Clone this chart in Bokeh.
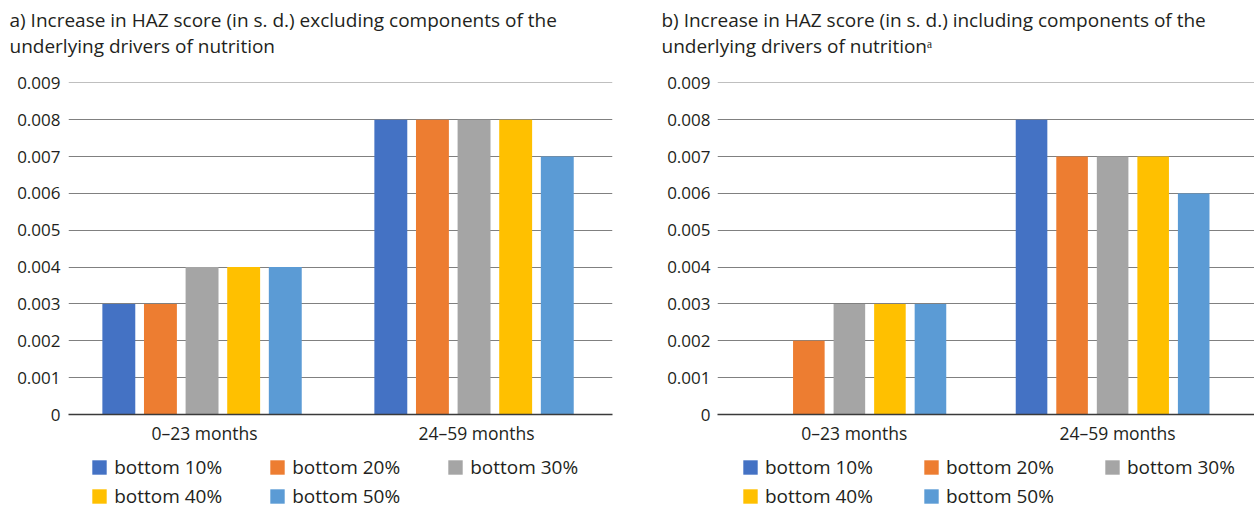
from bokeh.plotting import figure
from bokeh.models import (FactorRange, Range1d, FixedTicker, Legend, LegendItem, Title,
                          ColumnDataSource, NumeralTickFormatter)
from bokeh.transform import dodge
from bokeh.layouts import row, column
from bokeh.embed import file_html
from bokeh.resources import INLINE

# ---------------- data ----------------
age_groups = ["0–23 months", "24–59 months"]
series_names = ["bottom 10%", "bottom 20%", "bottom 30%", "bottom 40%", "bottom 50%"]

# a) excluding components of the underlying drivers of nutrition
a_bottom10 = [0.003, 0.008]
a_bottom20 = [0.003, 0.008]
a_bottom30 = [0.004, 0.008]
a_bottom40 = [0.004, 0.008]
a_bottom50 = [0.004, 0.007]

# b) including components of the underlying drivers of nutrition
b_bottom10 = [0.0, 0.008]
b_bottom20 = [0.002, 0.007]
b_bottom30 = [0.003, 0.007]
b_bottom40 = [0.003, 0.007]
b_bottom50 = [0.003, 0.006]

y_ticks = [0, 0.001, 0.002, 0.003, 0.004, 0.005, 0.006, 0.007, 0.008, 0.009]

title_a = "a) Increase in HAZ score (in s. d.) excluding components of the\nunderlying drivers of nutrition"
title_b = "b) Increase in HAZ score (in s. d.) including components of the\nunderlying drivers of nutrition\u1d43"

# ---------------- style ----------------
colors = ["#4472C4", "#ED7D31", "#A5A5A5", "#FFC000", "#5B9BD5"]
FONT = "Open Sans"
TXT = "#231F20"


def add_bars(p, src, bar_w, step, shift):
    offsets = [shift - 2 * step, shift - step, shift, shift + step, shift + 2 * step]
    rends = []
    for i in range(5):
        r = p.vbar(x=dodge("cat", offsets[i], range=p.x_range), top="s%d" % i, width=bar_w,
                   source=src, fill_color=colors[i], line_color=None)
        rends.append(r)
    return rends


def make_panel(title, src, min_left, min_right, fw, pad, bar_w, step, shift, title_off, ystand):
    p = figure(x_range=FactorRange(*age_groups, range_padding=pad, range_padding_units="absolute"),
               y_range=Range1d(0, 0.00901),
               frame_width=fw, frame_height=332,
               min_border_left=min_left, min_border_right=min_right,
               min_border_top=82, min_border_bottom=36,
               output_backend="svg", toolbar_location=None)
    p.outline_line_color = None
    p.background_fill_color = "white"
    p.border_fill_color = "white"

    add_bars(p, src, bar_w, step, shift)

    # spacer between title and plot area, then the two-line title
    p.add_layout(Title(text=" ", text_font_size="1px", standoff=21), "above")
    p.add_layout(Title(text=title, text_font=FONT, text_font_size="19px", text_font_style="normal",
                       text_color=TXT, text_line_height=1.0, align="left", offset=title_off,
                       standoff=0), "above")

    # grid
    p.xgrid.grid_line_color = None
    p.ygrid.ticker = FixedTicker(ticks=y_ticks)
    p.ygrid.grid_line_color = "#808080"
    p.ygrid.grid_line_width = 1.2

    # y axis
    p.yaxis.ticker = FixedTicker(ticks=y_ticks)
    p.yaxis.formatter = NumeralTickFormatter(format="0.[000]")
    p.yaxis.axis_line_color = None
    p.yaxis.major_tick_line_color = None
    p.yaxis.minor_tick_line_color = None
    p.yaxis.major_tick_out = 0
    p.yaxis.major_tick_in = 0
    p.yaxis.minor_tick_out = 0
    p.yaxis.major_label_text_font = FONT
    p.yaxis.major_label_text_font_size = "17px"
    p.yaxis.major_label_text_color = TXT
    p.yaxis.major_label_standoff = ystand

    # x axis
    p.xaxis.axis_line_color = "#3a3a3a"
    p.xaxis.axis_line_width = 1.3
    p.xaxis.major_tick_line_color = None
    p.xaxis.minor_tick_line_color = None
    p.xaxis.major_tick_out = 0
    p.xaxis.major_tick_in = 0
    p.xaxis.minor_tick_out = 0
    p.xaxis.major_label_text_font = FONT
    p.xaxis.major_label_text_font_size = "17.5px"
    p.xaxis.major_label_text_color = TXT
    p.xaxis.major_label_standoff = 6
    return p


def make_legend(src, min_left, min_right, fw, x_off, ys, label_w):
    # legend strip: same bar glyphs, drawn outside its visible y-range, only the legend shows
    lg = figure(x_range=FactorRange(*age_groups), y_range=Range1d(1, 2),
                frame_width=fw, frame_height=58,
                min_border_left=min_left, min_border_right=min_right,
                min_border_top=0, min_border_bottom=0,
                output_backend="svg", toolbar_location=None)
    lg.axis.visible = False
    lg.grid.visible = False
    lg.outline_line_color = None
    lg.background_fill_color = "white"
    lg.border_fill_color = "white"
    rends = add_bars(lg, src, 0.1, 0.15, 0.0)
    for items_idx, yy in zip([[0, 1, 2], [3, 4]], ys):
        leg = Legend(items=[LegendItem(label=series_names[k], renderers=[rends[k]]) for k in items_idx],
                     orientation="horizontal", location=(x_off, yy),
                     glyph_width=18, glyph_height=18, label_standoff=6,
                     label_width=label_w, label_height=26, spacing=0, padding=0, margin=0,
                     border_line_color=None, background_fill_alpha=0,
                     label_text_font=FONT, label_text_font_size="19px", label_text_color=TXT)
        lg.add_layout(leg)
    return lg


src_a = ColumnDataSource(dict(cat=age_groups, s0=a_bottom10, s1=a_bottom20, s2=a_bottom30,
                              s3=a_bottom40, s4=a_bottom50))
src_b = ColumnDataSource(dict(cat=age_groups, s0=b_bottom10, s1=b_bottom20, s2=b_bottom30,
                              s3=b_bottom40, s4=b_bottom50))

pa = make_panel(title_a, src_a, min_left=68, min_right=28, fw=544, pad=0.0, bar_w=0.121,
                step=0.153, shift=-0.009, title_off=-59, ystand=8)
pb = make_panel(title_b, src_b, min_left=77, min_right=0, fw=537, pad=0.02, bar_w=0.12,
                step=0.154, shift=-0.019, title_off=-56, ystand=7)

la = make_legend(src_a, 68, 28, 544, 22.2, [28, -1], 154)
lb = make_legend(src_b, 77, 0, 537, 23.9, [28, -1], 157)

layout = row(column(pa, la), column(pb, lb))
open("out.html", "w").write(file_html(layout, INLINE))
